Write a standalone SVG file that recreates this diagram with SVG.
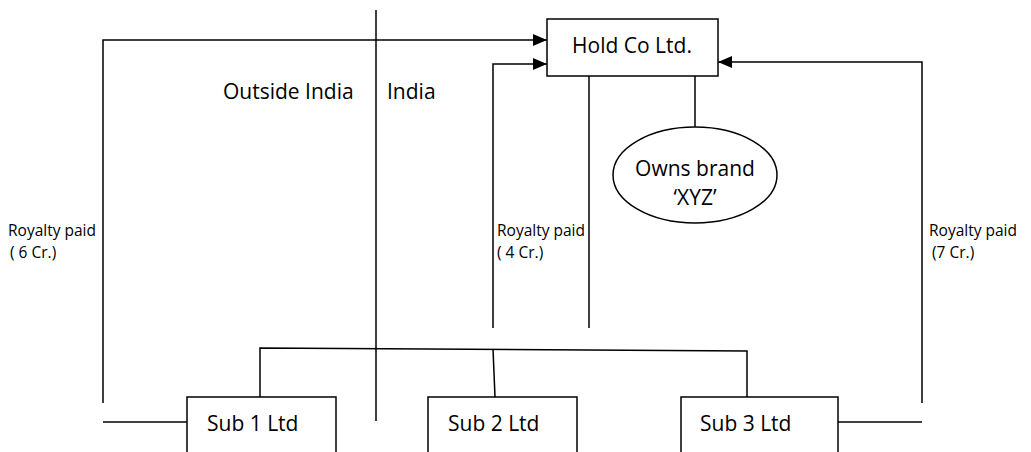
<svg xmlns="http://www.w3.org/2000/svg" width="1031" height="452" viewBox="0 0 1031 452">
<style>
.ln{stroke:#000;stroke-width:1.5;fill:none}
.bx{stroke:#000;stroke-width:1.5;fill:#fff}
.big{font-family:"Open Sans","Liberation Sans",sans-serif;font-size:21px;fill:#000}
.sm{font-family:"Open Sans","Liberation Sans",sans-serif;font-size:15.5px;fill:#000}
</style>
<defs>
<marker id="ah" markerWidth="14" markerHeight="12" refX="14" refY="6" orient="auto" markerUnits="userSpaceOnUse">
<path d="M0,0 L14,6 L0,12 Z" fill="#000"/>
</marker>
</defs>
<g id="connectors">
<line class="ln" x1="376" y1="10" x2="376" y2="421"/>
<polyline class="ln" points="103,403 103,40 547,40" marker-end="url(#ah)"/>
<polyline class="ln" points="493,328 493,64 547,64" marker-end="url(#ah)"/>
<polyline class="ln" points="922,403 922,62 718,62" marker-end="url(#ah)"/>
<line class="ln" x1="589" y1="76" x2="589" y2="328"/>
<line class="ln" x1="695" y1="76" x2="695" y2="127"/>
<line class="ln" x1="103" y1="422" x2="187" y2="422"/>
<line class="ln" x1="838" y1="422" x2="922" y2="422"/>
<polyline class="ln" points="260,397 260,348 747,351 747,397"/>
<line class="ln" x1="493" y1="349" x2="495" y2="397"/>
</g>
<g id="holdco">
<rect class="bx" x="547" y="19" width="171" height="57"/>
<text class="big" x="632" y="53" text-anchor="middle">Hold Co Ltd.</text>
</g>
<g id="brand">
<ellipse class="bx" cx="695" cy="175" rx="82" ry="48"/>
<text class="big" x="695" y="176" text-anchor="middle">Owns brand</text>
<text class="big" x="695" y="205" text-anchor="middle">‘XYZ’</text>
</g>
<g id="sub1">
<rect class="bx" x="187" y="397" width="149" height="70"/>
<text class="big" x="207" y="431">Sub 1 Ltd</text>
</g>
<g id="sub2">
<rect class="bx" x="428" y="397" width="149" height="70"/>
<text class="big" x="448" y="431">Sub 2 Ltd</text>
</g>
<g id="sub3">
<rect class="bx" x="681" y="397" width="157" height="70"/>
<text class="big" x="700" y="431">Sub 3 Ltd</text>
</g>
<g id="labels">
<text class="sm" x="8" y="236">Royalty paid</text>
<text class="sm" x="10" y="258" xml:space="preserve">( 6 Cr.)</text>
<text class="sm" x="497" y="236">Royalty paid</text>
<text class="sm" x="497" y="258" xml:space="preserve">( 4 Cr.)</text>
<text class="sm" x="929" y="236">Royalty paid</text>
<text class="sm" x="932" y="258">(7 Cr.)</text>
<text class="big" x="223" y="99">Outside India</text>
<text class="big" x="387" y="99">India</text>
</g>
</svg>
